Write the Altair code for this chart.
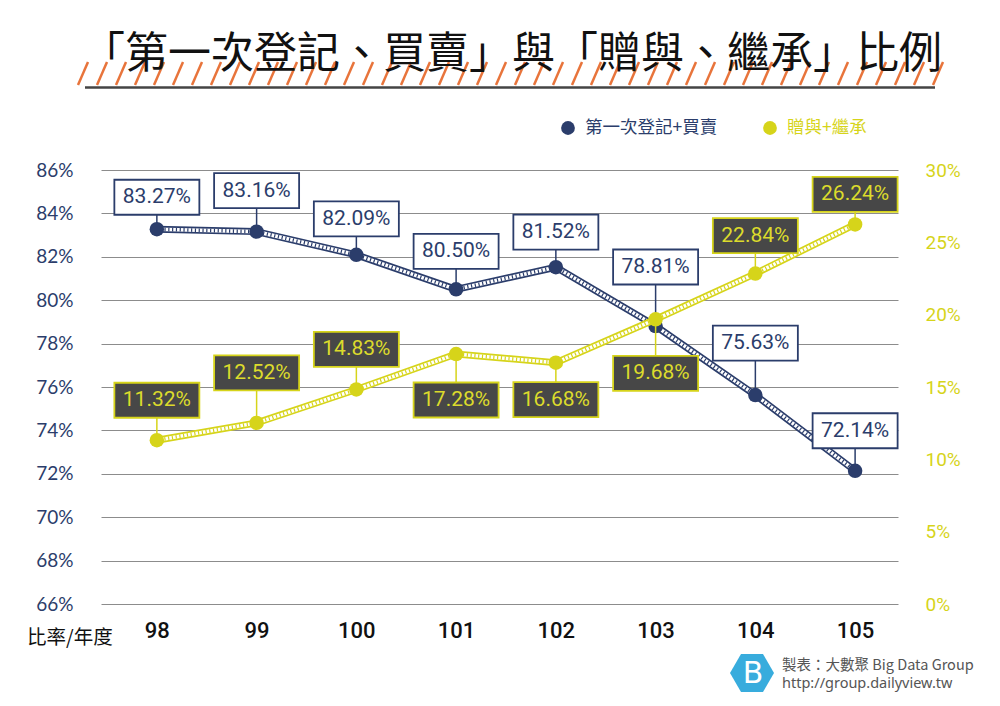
import altair as alt
import pandas as pd

# ---------------- data ----------------
years = [98, 99, 100, 101, 102, 103, 104, 105]
blue_vals = [83.27, 83.16, 82.09, 80.50, 81.52, 78.81, 75.63, 72.14]
yellow_vals = [11.32, 12.52, 14.83, 17.28, 16.68, 19.68, 22.84, 26.24]
blue_name = "第一次登記+買賣"
yellow_name = "贈與+繼承"
title_text = "「第一次登記、買賣」與「贈與、繼承」比例"
axis_corner_label = "比率/年度"
credit_line1 = "製表：大數聚 Big Data Group"
credit_line2 = "http://group.dailyview.tw"
left_ticks = [66, 68, 70, 72, 74, 76, 78, 80, 82, 84, 86]
right_ticks = [0, 5, 10, 15, 20, 25, 30]

# ---------------- layout / style ----------------
W, H = 797, 434
left_dom = [66, 86]
right_dom = [0, 30]
x_dom = [97.44, 105.43]
# label box vertical offset from its point, in pixels (negative = above)
blue_label_dy = [-32, -41, -36, -38, -35, -59, -52, -40]
yellow_label_dy = [-40, -50, -40, 46, 37, 54, -38, -30]
BOX_HW, BOX_HH = 42.5, 17.5

NAVY = "#2b3d6b"
YEL = "#d6d41a"
YEL_TXT = "#dcdb2c"
BOX_DARK = "#474747"
GRID = "#8c8c8c"

xu = (x_dom[1] - x_dom[0]) / W
lu = (left_dom[1] - left_dom[0]) / H
ru = (right_dom[1] - right_dom[0]) / H


def make_df(vals, dys, unit):
    rows = []
    for yr, v, dy in zip(years, vals, dys):
        ly = v - dy * unit
        rows.append(dict(year=yr, v=v, ly=ly,
                         y1=ly - BOX_HH * unit, y2=ly + BOX_HH * unit,
                         x1=yr - BOX_HW * xu, x2=yr + BOX_HW * xu,
                         label=f"{v:.2f}%"))
    return pd.DataFrame(rows)


bdf = make_df(blue_vals, blue_label_dy, lu)
ydf = make_df(yellow_vals, yellow_label_dy, ru)

xs = alt.Scale(domain=x_dom, nice=False, zero=False)
ysl = alt.Scale(domain=left_dom, nice=False, zero=False)
ysr = alt.Scale(domain=right_dom, nice=False, zero=False)

x_axis = alt.Axis(values=years, format="d", labelFontSize=22, labelFont="Roboto",
                  labelFontWeight=500, labelColor="#111111", ticks=False, domain=False,
                  grid=False, labelPadding=16, title=None)
left_axis = alt.Axis(values=left_ticks, labelExpr="datum.value + '%'", grid=True,
                     gridColor=GRID, gridWidth=1, domain=False, ticks=False,
                     labelPadding=28, labelFontSize=19, labelFont="Lato",
                     labelColor=NAVY, title=None, orient="left")
right_axis = alt.Axis(values=right_ticks, labelExpr="datum.value + '%'", grid=False,
                      domain=False, ticks=False, labelPadding=27, labelFontSize=19,
                      labelFont="Roboto", labelColor=YEL, title=None, orient="right")


def X(field="year", axis=None):
    return alt.X(f"{field}:Q", scale=xs, axis=axis)


def Y(field, scale, axis=None):
    return alt.Y(f"{field}:Q", scale=scale, axis=axis)


def series_layers(df, ys, color, yaxis, xaxis, box_fill, box_stroke, txt_color):
    base = alt.Chart(df)
    l1 = base.mark_line(color=color, strokeWidth=7).encode(x=X(axis=xaxis), y=Y("v", ys, yaxis))
    l2 = base.mark_line(color="white", strokeWidth=3.6).encode(x=X(), y=Y("v", ys))
    l3 = base.mark_line(color=color, strokeWidth=3.6, strokeDash=[1.2, 2.6]).encode(x=X(), y=Y("v", ys))
    rule = base.mark_rule(color=color, strokeWidth=1.5).encode(x=X(), y=Y("v", ys), y2="ly:Q")
    pts = base.mark_circle(size=210, color=color, opacity=1).encode(x=X(), y=Y("v", ys))
    box = base.mark_rect(fill=box_fill, stroke=box_stroke, strokeWidth=1.8).encode(
        x=X("x1"), x2="x2:Q", y=Y("y1", ys), y2="y2:Q")
    txt = base.mark_text(font="Roboto", fontSize=21, color=txt_color, baseline="middle",
                         align="center").encode(x=X(), y=Y("ly", ys), text="label:N")
    return [l1, l2, l3, rule, pts], [box, txt]


b_lines, b_labels = series_layers(bdf, ysl, NAVY, left_axis, x_axis, "white", NAVY, NAVY)
y_lines, y_labels = series_layers(ydf, ysr, YEL, right_axis, None, BOX_DARK, YEL, YEL_TXT)

# ---------------- decorations ----------------
one = pd.DataFrame({"a": [0]})

stripes = pd.DataFrame({"sx": list(range(-23, 834, 19))})
stripes["sx2"] = stripes["sx"] + 10
stripe_layer = alt.Chart(stripes).mark_rule(color="#e8743b", strokeWidth=2.5).encode(
    x=alt.X("sx:Q", scale=None), x2="sx2:Q",
    y=alt.value(-85), y2=alt.value(-108))
under_line = alt.Chart(one).mark_rule(color="#444444", strokeWidth=2.5).encode(
    x=alt.value(-16), x2=alt.value(834), y=alt.value(-82.5))
title_layer = alt.Chart(one).mark_text(text=title_text, font="Noto Sans CJK TC", fontSize=43,
                                       fontWeight="normal", color="#111111", baseline="middle",
                                       align="center").encode(x=alt.value(411), y=alt.value(-115))

leg_b_pt = alt.Chart(one).mark_circle(size=190, color=NAVY, opacity=1).encode(
    x=alt.value(467), y=alt.value(-42))
leg_b_tx = alt.Chart(one).mark_text(text=blue_name, font="Noto Sans CJK TC", fontSize=17.5,
                                    color=NAVY, align="left", baseline="middle").encode(
    x=alt.value(484), y=alt.value(-42))
leg_y_pt = alt.Chart(one).mark_circle(size=190, color=YEL, opacity=1).encode(
    x=alt.value(669), y=alt.value(-42))
leg_y_tx = alt.Chart(one).mark_text(text=yellow_name, font="Noto Sans CJK TC", fontSize=17.5,
                                    color=YEL, align="left", baseline="middle").encode(
    x=alt.value(686), y=alt.value(-42))

corner = alt.Chart(one).mark_text(text=axis_corner_label, font="Noto Sans CJK TC", fontSize=19.5,
                                  color="#111111", align="left", baseline="middle").encode(
    x=alt.value(-74), y=alt.value(468))

hex_path = "M-1,0L-0.5,-0.866L0.5,-0.866L1,0L0.5,0.866L-0.5,0.866Z"
logo_hex = alt.Chart(one).mark_point(shape=hex_path, filled=True, size=1936, color="#38acdd",
                                     opacity=1).encode(x=alt.value(651), y=alt.value(503))
logo_b = alt.Chart(one).mark_text(text="B", font="DejaVu Sans", fontSize=30, color="white",
                                  baseline="middle", align="center").encode(
    x=alt.value(652), y=alt.value(504))
credit1 = alt.Chart(one).mark_text(text=credit_line1, font="Noto Sans CJK TC", fontSize=14.5,
                                   color="#555555", align="left", baseline="middle").encode(
    x=alt.value(681), y=alt.value(496))
credit2 = alt.Chart(one).mark_text(text=credit_line2, font="Noto Sans", fontSize=14.5,
                                   color="#555555", align="left", baseline="middle").encode(
    x=alt.value(681), y=alt.value(514))

layers = (b_lines + y_lines + b_labels + y_labels +
          [stripe_layer, under_line, title_layer,
           leg_b_pt, leg_b_tx, leg_y_pt, leg_y_tx, corner,
           logo_hex, logo_b, credit1, credit2])

chart = alt.layer(*layers).resolve_scale(x="independent", y="independent").properties(
    width=W, height=H,
    autosize=alt.AutoSizeParams(type="none"),
    padding={"left": 93, "top": 162, "right": 94, "bottom": 94},
    background="white",
).configure_view(stroke=None)

chart.save("out.html", embed_options={"renderer": "svg", "actions": False})
